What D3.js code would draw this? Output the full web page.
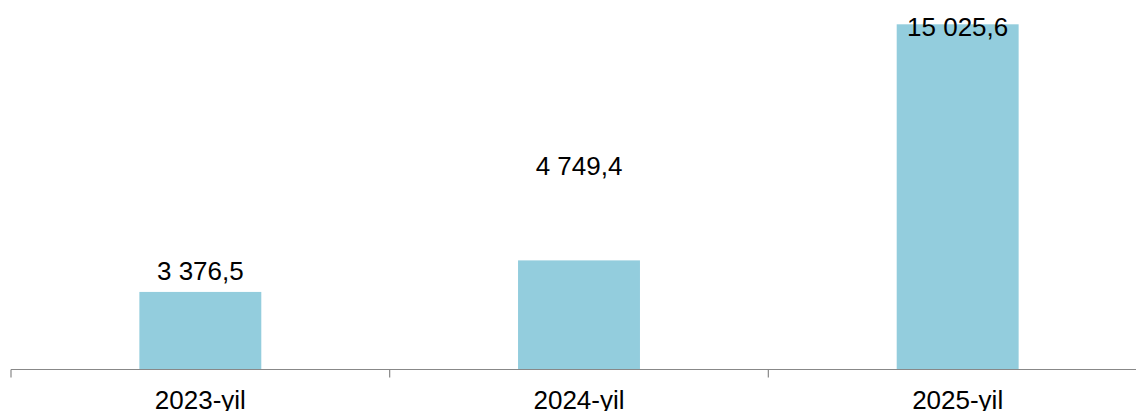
<!DOCTYPE html>
<html>
<head>
<meta charset="utf-8">
<script src="https://cdn.jsdelivr.net/npm/d3@7"></script>
<style>
  html, body { margin: 0; padding: 0; background: #ffffff; }
  svg { display: block; }
  text { font-family: "Liberation Sans", Arial, sans-serif; }
</style>
</head>
<body>
<svg id="chart" width="1136" height="411"></svg>
<script>
const categories = ["2023-yil", "2024-yil", "2025-yil"];
const values = [3376.5, 4749.4, 15025.6];
const valueLabels = ["3 376,5", "4 749,4", "15 025,6"];

const W = 1136, H = 411;
const svg = d3.select("#chart");

const baseY = 369.5;
const x = d3.scaleBand().domain(categories).range([11, 1147]).padding(0);
const y = d3.scaleLinear().domain([0, 15025.6]).range([baseY, 24.3]);

const barW = x.bandwidth() * 0.322;

svg.append("g").selectAll("rect")
  .data(values)
  .join("rect")
  .attr("x", (d, i) => x(categories[i]) + (x.bandwidth() - barW) / 2)
  .attr("y", d => y(d))
  .attr("width", barW)
  .attr("height", d => baseY - y(d))
  .attr("fill", "#93CDDD");

// axis
const axis = svg.append("g").attr("transform", `translate(0,${baseY})`);
axis.append("line")
  .attr("x1", 11).attr("x2", W)
  .attr("y1", 0).attr("y2", 0)
  .attr("stroke", "#888888").attr("stroke-width", 1.2);
const tickXs = categories.map(c => x(c)).concat([x(categories[categories.length - 1]) + x.bandwidth()]);
axis.selectAll("line.tick")
  .data(tickXs)
  .join("line")
  .attr("class", "tick")
  .attr("x1", d => d).attr("x2", d => d)
  .attr("y1", 0).attr("y2", 8)
  .attr("stroke", "#888888").attr("stroke-width", 1.2);

axis.selectAll("text")
  .data(categories)
  .join("text")
  .attr("x", d => x(d) + x.bandwidth() / 2)
  .attr("y", 39)
  .attr("text-anchor", "middle")
  .attr("font-size", 26)
  .attr("fill", "#000")
  .text(d => d);

// value labels (offsets relative to bar top as in the original)
const labelDy = [-12.4, -85, 12];
svg.append("g").selectAll("text")
  .data(values)
  .join("text")
  .attr("x", (d, i) => x(categories[i]) + x.bandwidth() / 2)
  .attr("y", (d, i) => y(d) + labelDy[i])
  .attr("text-anchor", "middle")
  .attr("font-size", 26)
  .attr("fill", "#000")
  .text((d, i) => valueLabels[i]);
</script>
</body>
</html>
